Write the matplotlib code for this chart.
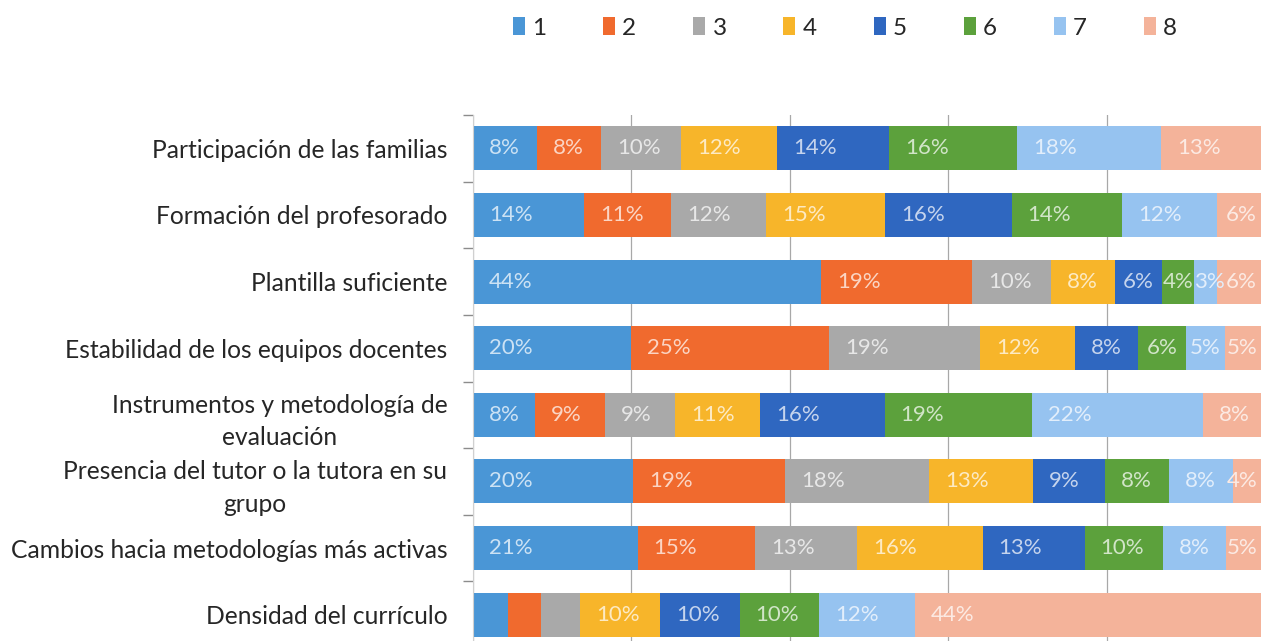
import matplotlib
matplotlib.use("Agg")
import matplotlib.pyplot as plt
from matplotlib.patches import Patch
from matplotlib.colors import to_rgb
import numpy as np

categories = [
    "Participación de las familias",
    "Formación del profesorado",
    "Plantilla suficiente",
    "Estabilidad de los equipos docentes",
    "Instrumentos y metodología de\nevaluación",
    "Presencia del tutor o la tutora en su\ngrupo",
    "Cambios hacia metodologías más activas",
    "Densidad del currículo",
]
series_names = ["1", "2", "3", "4", "5", "6", "7", "8"]

s1 = [8, 14, 44, 20, 8, 20, 21, 4.4]
s2 = [8, 11, 19, 25, 9, 19, 15, 4.2]
s3 = [10, 12, 10, 19, 9, 18, 13, 4.9]
s4 = [12, 15, 8, 12, 11, 13, 16, 10]
s5 = [14, 16, 6, 8, 16, 9, 13, 10]
s6 = [16, 14, 4, 6, 19, 8, 10, 10]
s7 = [18, 12, 3, 5, 22, 8, 8, 12]
s8 = [13, 6, 6, 5, 8, 4, 5, 44]

# labels not shown in the original (row index, series index)
hidden_labels = [(7, 0), (7, 1), (7, 2)]

colors = ["#4a96d6", "#f06a2e", "#a9a9a9", "#f7b52a",
          "#2f67c0", "#5ca13c", "#96c3f0", "#f4b39a"]

plt.rcParams['font.family'] = ['Lato', 'DejaVu Sans']

W, H = 1261, 641
AX_LEFT_PX, AX_W_PX = 473, 792
fig = plt.figure(figsize=(W / 100, H / 100), dpi=100)
ax = fig.add_axes([AX_LEFT_PX / W, (H - 648) / H, AX_W_PX / W, 533 / H])

data = np.array([s1, s2, s3, s4, s5, s6, s7, s8], dtype=float)  # series x rows
totals = data.sum(axis=0)
pct = data / totals * 100

y = np.arange(len(categories))
left = np.zeros(len(categories))
bar_h = 0.66
for k in range(len(series_names)):
    ax.barh(y, pct[k], left=left, height=bar_h, color=colors[k],
            label=series_names[k], zorder=2, linewidth=0)
    left = left + pct[k]

ax.set_xlim(0, 100)
ax.set_ylim(len(categories) - 0.5, -0.5)

ax.set_xticks([0, 20, 40, 60, 80, 100])
ax.xaxis.grid(True, color="#a8a8a8", linewidth=0.9, zorder=0)
ax.set_axisbelow(True)
ax.tick_params(axis="x", length=0, labelbottom=False)

ax.set_yticks(y)
ax.set_yticklabels(categories, fontsize=17.7, color="#262626")
ax.set_yticks(np.arange(-0.5, len(categories)), minor=True)
ax.tick_params(axis="y", which="major", length=0, pad=18.5)
ax.tick_params(axis="y", which="minor", length=7, color="#8c8c8c", width=1)
for t in ax.get_yticklabels():
    t.set_multialignment("center")
    t.set_linespacing(1.5)

for s in ["top", "right", "bottom"]:
    ax.spines[s].set_visible(False)
ax.spines["left"].set_color("#d0d0d0")

# data labels (inside base)
fig.canvas.draw()
renderer = fig.canvas.get_renderer()
px_per_unit = AX_W_PX / 100.0
left = np.zeros(len(categories))
for k in range(len(series_names)):
    for i in range(len(categories)):
        w = pct[k][i]
        if (i, k) not in hidden_labels:
            c = np.array(to_rgb(colors[k]))
            tc = c + (1 - c) * 0.72
            txt = ax.text(left[i], i, f"{int(round(data[k][i]))}%",
                          fontsize=16, color=tc, va="center", ha="left",
                          zorder=3)
            tw = txt.get_window_extent(renderer).width
            seg_px = w * px_per_unit
            pad = min(16, max(0, (seg_px - tw) / 2))
            x_px = AX_LEFT_PX + left[i] * px_per_unit + pad
            x_px = min(x_px, W - 3 - tw)  # keep text inside the picture
            txt.set_x((x_px - AX_LEFT_PX) / px_per_unit)
        left[i] += w

handles = [Patch(facecolor=colors[k], edgecolor="none", label=series_names[k])
           for k in range(len(series_names))]
fig.legend(handles=handles, loc="center", ncol=8,
           bbox_to_anchor=(845 / W, 1 - 28 / H), frameon=False,
           fontsize=17.5, handlelength=0.5, handleheight=0.75,
           handletextpad=0.3, columnspacing=2.33, labelcolor="#262626")

fig.savefig("out.png", dpi=100)
